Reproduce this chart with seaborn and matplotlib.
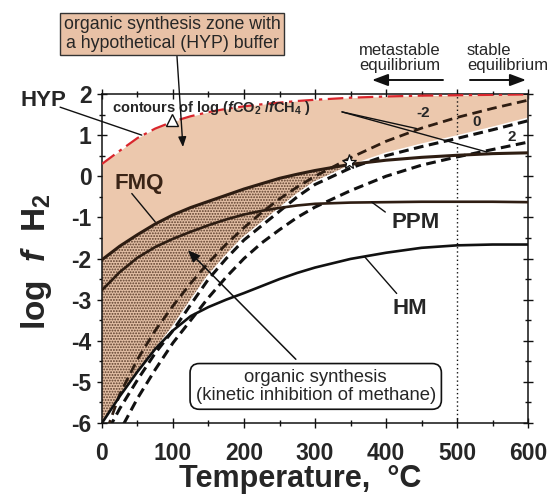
import numpy as np
import pandas as pd
import matplotlib
matplotlib.use("Agg")
import matplotlib.pyplot as plt
import seaborn as sns
from matplotlib.ticker import MultipleLocator

# Temperature grid (deg C)
temperature = [0, 25, 50, 75, 100, 125, 150, 175, 200, 225, 250, 275, 300,
               350, 400, 450, 500, 550, 600]

# log fH2 of the redox buffers
hyp = [0.30, 0.62, 0.93, 1.16, 1.33, 1.46, 1.56, 1.64, 1.70, 1.75, 1.79, 1.83, 1.86,
       1.91, 1.94, 1.96, 1.97, 1.98, 1.99]
fmq = [-2.03, -1.70, -1.42, -1.16, -0.94, -0.76, -0.61, -0.46, -0.31, -0.18, -0.05, 0.05, 0.14,
       0.29, 0.39, 0.46, 0.51, 0.55, 0.57]
ppm = [-2.77, -2.33, -1.98, -1.72, -1.52, -1.35, -1.19, -1.05, -0.93, -0.84, -0.77, -0.71, -0.67,
       -0.64, -0.63, -0.62, -0.62, -0.62, -0.63]
hm = [-6.00, -5.35, -4.75, -4.20, -3.75, -3.40, -3.18, -3.00, -2.84, -2.67, -2.50, -2.35, -2.22,
      -2.01, -1.86, -1.74, -1.68, -1.66, -1.66]

# contours of log(fCO2/fCH4)
co2ch4_m2 = [-6.50, -5.30, -4.45, -3.75, -3.15, -2.60, -2.10, -1.65, -1.25, -0.88, -0.55, -0.26, 0.00,
             0.45, 0.85, 1.17, 1.43, 1.65, 1.85]
co2ch4_0 = [-6.45, -5.65, -4.95, -4.30, -3.75, -3.12, -2.50, -2.00, -1.55, -1.20, -0.85, -0.50, -0.20,
            0.20, 0.50, 0.72, 0.92, 1.13, 1.35]
co2ch4_p2 = [-7.00, -6.20, -5.40, -4.70, -4.05, -3.50, -2.95, -2.45, -2.00, -1.62, -1.30, -1.00, -0.75,
             -0.35, 0.00, 0.27, 0.47, 0.65, 0.83]

x_ticks = [0, 100, 200, 300, 400, 500, 600]
y_ticks = [-6, -5, -4, -3, -2, -1, 0, 1, 2]

df = pd.DataFrame({"T": temperature, "HYP": hyp, "FMQ": fmq, "PPM": ppm, "HM": hm,
                   "c_m2": co2ch4_m2, "c_0": co2ch4_0, "c_p2": co2ch4_p2})

sns.set_theme(style="ticks")
plt.rcParams["font.family"] = ["Liberation Sans", "DejaVu Sans"]
plt.rcParams["axes.unicode_minus"] = False
plt.rcParams["mathtext.fontset"] = "custom"
plt.rcParams["mathtext.rm"] = "Liberation Sans:bold"
plt.rcParams["mathtext.it"] = "Liberation Sans:italic:bold"
plt.rcParams["mathtext.bf"] = "Liberation Sans:bold"
plt.rcParams["hatch.linewidth"] = 0.9

TAN = "#ecc8ad"
INK = "#111111"
BROWN = "#2e1d12"

fig = plt.figure(figsize=(5.57, 4.94), dpi=100)
ax = fig.add_axes([0.1831, 0.1437, 0.7649, 0.6660])
ax.set_xlim(0, 600)
ax.set_ylim(-6, 2)

T = df["T"].to_numpy()
lower = np.maximum(df["HM"].to_numpy(), df["c_0"].to_numpy())

# organic synthesis zone bounded by the hypothetical buffer
ax.fill_between(T, lower, df["HYP"], where=df["HYP"].to_numpy() >= lower,
                interpolate=True, color=TAN, linewidth=0, zorder=1)
# stippled zone below FMQ (kinetic inhibition of methane)
ax.fill_between(T, lower, df["FMQ"], where=df["FMQ"].to_numpy() >= lower,
                interpolate=True, facecolor="#e2bea4", edgecolor="#5a3c2a",
                hatch="......", linewidth=0, zorder=1.2)

# boundary between equilibrium regimes
ax.axvline(500, color=INK, lw=1.0, ls=(0, (1, 2)), zorder=1.5)

common = dict(ax=ax, x="T", estimator=None, sort=False, legend=False)
sns.lineplot(data=df, y="HYP", color="#d9262c", lw=1.6, linestyle=(0, (7, 2.5, 1.5, 2.5)), zorder=3, **common)
sns.lineplot(data=df, y="c_p2", color=INK, lw=2.2, linestyle=(0, (3.2, 1.8)), zorder=2.5, **common)
sns.lineplot(data=df, y="c_0", color="white", lw=4.5, zorder=2.4, **common)
sns.lineplot(data=df, y="c_0", color=INK, lw=2.2, linestyle=(0, (3.2, 1.8)), zorder=2.6, **common)
sns.lineplot(data=df, y="c_m2", color=BROWN, lw=2.0, linestyle=(0, (3.5, 2.0)), zorder=2.6, **common)
sns.lineplot(data=df, y="FMQ", color=BROWN, lw=2.2, zorder=2.8, **common)
sns.lineplot(data=df, y="PPM", color=BROWN, lw=1.9, zorder=2.8, **common)
sns.lineplot(data=df, y="HM", color=INK, lw=1.9, zorder=2.8, **common)

# markers
ax.plot([348], [0.35], marker="*", ms=11, mfc="white", mec=INK, mew=0.9, ls="none", zorder=4)
ax.plot([99], [1.36], marker="^", ms=8, mfc="white", mec=INK, mew=1.0, ls="none", zorder=4)

# axes styling
ax.set_xticks(x_ticks)
ax.set_yticks(y_ticks)
ax.xaxis.set_minor_locator(MultipleLocator(50))
ax.yaxis.set_minor_locator(MultipleLocator(0.5))
ax.tick_params(which="both", direction="inout", top=True, right=True, width=1.0, color=INK)
ax.tick_params(which="major", length=7)
ax.tick_params(which="minor", length=4)
ax.tick_params(axis="x", which="major", pad=10, labelsize=16.5)
ax.tick_params(axis="y", which="major", pad=4, labelsize=16.5)
for lab in ax.get_xticklabels() + ax.get_yticklabels():
    lab.set_fontweight("bold")
for sp in ax.spines.values():
    sp.set_color(INK)
    sp.set_linewidth(1.1)
ax.set_xlabel("")
ax.set_ylabel("")

fig.text(300 / 557, 1 - 479 / 494, "Temperature,  \u00b0C", ha="center", va="center",
         fontsize=22, fontweight="bold")
fig.text(36 / 557, 1 - 262 / 494, r"log  $f$  H$_2$", ha="center", va="center",
         rotation=90, fontsize=24, fontweight="bold")

# buffer labels
ax.text(52, -0.17, "FMQ", fontsize=16, fontweight="bold", color="#3a2416", ha="center", va="center", zorder=5)
ax.plot([42, 75], [-0.42, -1.11], color=INK, lw=1.0, zorder=5)
ax.text(441, -1.12, "PPM", fontsize=16, fontweight="bold", ha="center", va="center", zorder=5)
ax.plot([380, 399], [-0.63, -0.87], color=INK, lw=1.0, zorder=5)
ax.text(434, -3.22, "HM", fontsize=16, fontweight="bold", ha="center", va="center", zorder=5)
ax.plot([370, 415], [-1.96, -2.85], color=INK, lw=1.0, zorder=5)

fig.text(43 / 557, 1 - 100 / 494, "HYP", fontsize=16, fontweight="bold", ha="center", va="center")
ax.annotate("", xy=(56, 1.0), xytext=(-59, 1.68), annotation_clip=False,
            arrowprops=dict(arrowstyle="-", lw=1.0, color=INK, shrinkA=0, shrinkB=0))

# contour annotations
ax.text(14, 1.66, r"contours of log ($f$CO$_2$ /$f$CH$_4$ )", fontsize=10.5, fontweight="bold",
        ha="left", va="center", zorder=5)
for end in [(443, 1.16), (542, 0.59)]:
    ax.annotate("", xy=end, xytext=(338, 1.565),
                arrowprops=dict(arrowstyle="-", lw=1.0, color=INK, shrinkA=0, shrinkB=0), zorder=5)
ax.text(452, 1.53, "-2", fontsize=11, fontweight="bold", ha="center", va="center", zorder=5)
ax.text(528, 1.31, "0", fontsize=11, fontweight="bold", ha="center", va="center", zorder=5)
ax.text(577, 0.95, "2", fontsize=11, fontweight="bold", ha="center", va="center", zorder=5)

# zone descriptions
fig.text(172 / 557, 1 - 34 / 494, "organic synthesis zone with\na hypothetical (HYP) buffer",
         fontsize=12.8, ha="center", va="center", linespacing=1.1,
         bbox=dict(boxstyle="square,pad=0.2", fc="#e8c1a6", ec="#333333", lw=1.0))
ax.annotate("", xy=(114, 0.71), xytext=(105.6, 2.92), annotation_clip=False,
            arrowprops=dict(arrowstyle="-|>,head_length=0.5,head_width=0.2", lw=1.0, color=INK,
                            shrinkA=0, shrinkB=0), zorder=5)

ax.text(301, -5.11, "organic synthesis\n(kinetic inhibition of methane)", fontsize=13.3,
        ha="center", va="center", linespacing=1.05, zorder=6,
        bbox=dict(boxstyle="round,pad=0.3,rounding_size=0.5", fc="white", ec=INK, lw=1.2))
ax.annotate("", xy=(121, -1.8), xytext=(273, -4.45),
            arrowprops=dict(arrowstyle="-|>,head_length=0.6,head_width=0.25", lw=1.1, color=INK,
                            shrinkA=0, shrinkB=0), zorder=5)

# equilibrium regime labels
fig.text(400 / 557, 1 - 58 / 494, "metastable\nequilibrium", fontsize=12, ha="center",
         va="center", linespacing=1.0)
fig.text(467 / 557, 1 - 58 / 494, "stable\nequilibrium", fontsize=12, ha="left",
         va="center", linespacing=1.0)
ax.annotate("", xy=(372, 494 - 80), xytext=(443, 494 - 80), xycoords="figure pixels",
            textcoords="figure pixels",
            arrowprops=dict(arrowstyle="-|>,head_length=0.8,head_width=0.3", lw=1.4, color=INK,
                            shrinkA=0, shrinkB=0))
ax.annotate("", xy=(526, 494 - 80), xytext=(470, 494 - 80), xycoords="figure pixels",
            textcoords="figure pixels",
            arrowprops=dict(arrowstyle="-|>,head_length=0.8,head_width=0.3", lw=1.4, color=INK,
                            shrinkA=0, shrinkB=0))

fig.savefig("out.png", dpi=100)
